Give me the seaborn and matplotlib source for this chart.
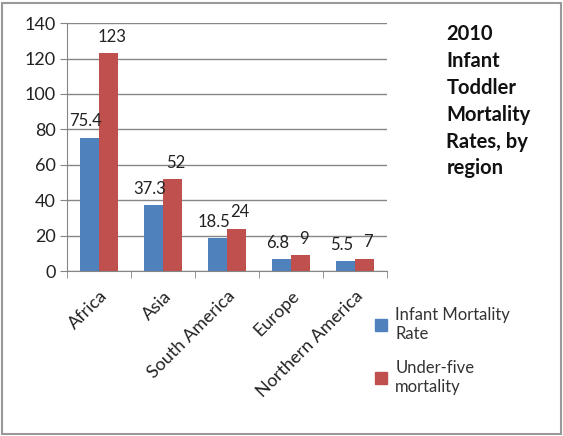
import pandas as pd
import seaborn as sns
import matplotlib.pyplot as plt
from matplotlib.patches import Rectangle, Patch

regions = ['Africa', 'Asia', 'South America', 'Europe', 'Northern America']
infant = [75.4, 37.3, 18.5, 6.8, 5.5]
under_five = [123, 52, 24, 9, 7]
series = ['Infant Mortality\nRate', 'Under-five\nmortality']
colors = ['#4F81BD', '#C0504D']

df = pd.DataFrame({
    'region': regions * 2,
    'value': infant + under_five,
    'series': [series[0]] * len(regions) + [series[1]] * len(regions),
})

sns.set_style('white')
plt.rcParams['font.family'] = ['Lato', 'DejaVu Sans']

fig = plt.figure(figsize=(5.63, 4.36), dpi=100)
ax = fig.add_axes([0.119, 0.378, 0.568, 0.569])

sns.barplot(data=df, x='region', y='value', hue='series', palette=colors,
            width=0.6, saturation=1, linewidth=0, ax=ax, legend=False)

# value labels, nudged apart a little so neighbours don't collide
for cont, dx in zip(ax.containers, [-2.5, 2.5]):
    texts = ax.bar_label(cont, labels=[f'{v:g}' for v in cont.datavalues],
                         padding=6, fontsize=12, color='#222222')
    for t in texts:
        t.xyann = (t.xyann[0] + dx, t.xyann[1])

ax.set_ylim(0, 140)
ax.set_yticks(range(0, 141, 20))
ax.set_xlim(-0.5, len(regions) - 0.5)
ax.yaxis.grid(True, color='#868686', linewidth=1)
ax.set_axisbelow(True)
ax.set_xlabel('')
ax.set_ylabel('')
for s in ['top', 'right']:
    ax.spines[s].set_visible(False)
for s in ['left', 'bottom']:
    ax.spines[s].set_color('#868686')
ax.tick_params(axis='y', length=5, color='#868686', labelsize=13,
               labelcolor='#222222', left=True, pad=3)
ax.tick_params(axis='x', length=0, labelsize=13, labelcolor='#222222', pad=12)
ax.set_xticks(range(len(regions)))
ax.set_xticklabels(regions, rotation=45, ha='right', rotation_mode='anchor')
ax.set_xticks([i - 0.5 for i in range(len(regions) + 1)], minor=True)
ax.tick_params(axis='x', which='minor', length=5, color='#868686', bottom=True)

fig.text(0.793, 0.945, '2010\nInfant\nToddler\nMortality\nRates, by\nregion',
         fontsize=14.5, fontweight='bold', va='top', ha='left',
         linespacing=1.43, color='#111111')

handles = [Patch(color=c, label=l) for c, l in zip(colors, series)]
fig.legend(handles=handles, loc='upper left', bbox_to_anchor=(0.64, 0.33),
           frameon=False, fontsize=12, handlelength=0.7, handleheight=0.7,
           handletextpad=0.5, labelspacing=1.1, labelcolor='#333333')

fig.patches.append(Rectangle((0.003, 0.004), 0.994, 0.99, transform=fig.transFigure,
                             fill=False, edgecolor='#999999', linewidth=1.5))

fig.savefig('out.png', dpi=100)
